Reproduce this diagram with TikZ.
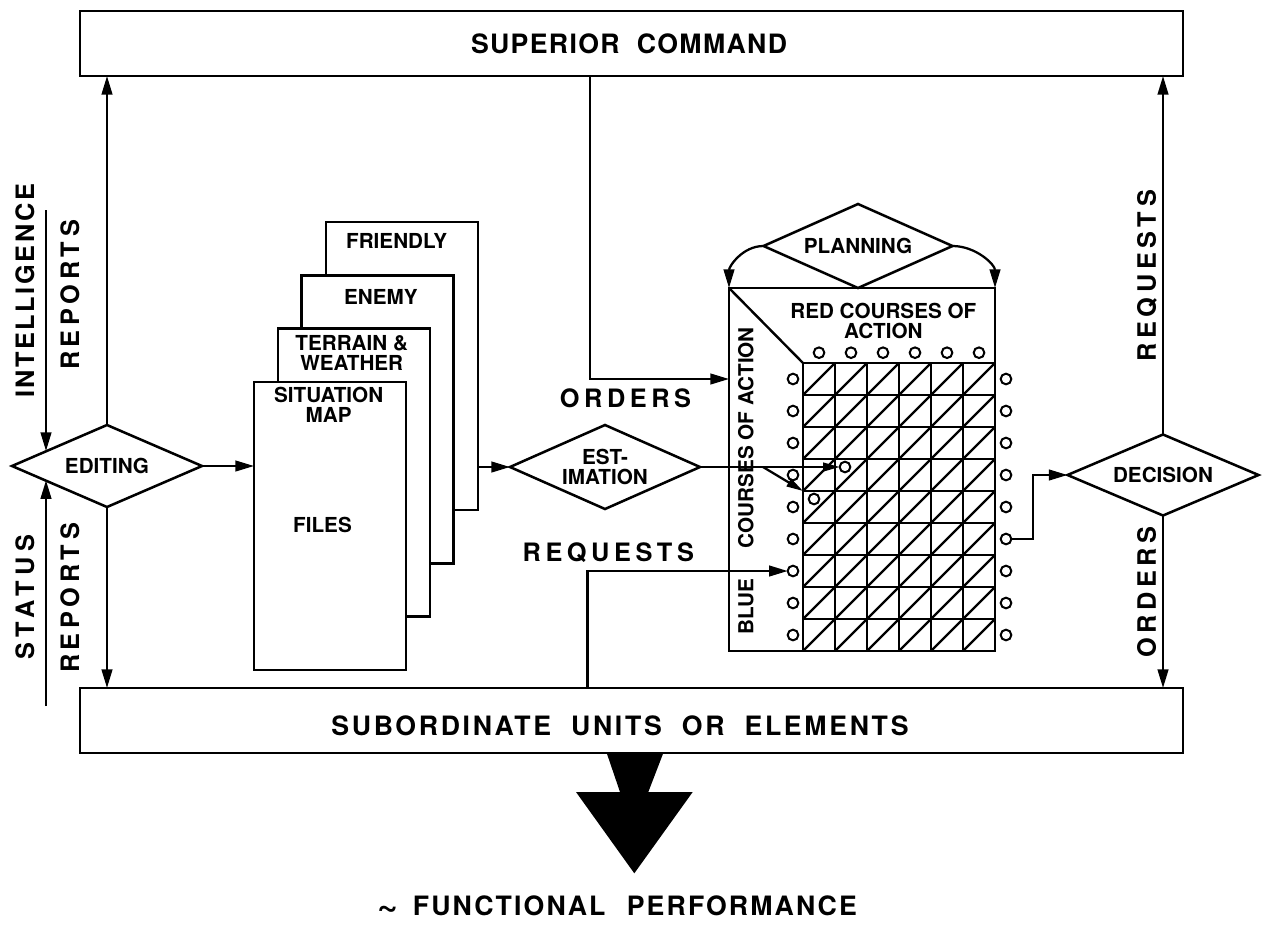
\documentclass[tikz,border=0pt]{standalone}
\usepackage{fontspec}
\setmainfont{TeX Gyre Heros}
\usetikzlibrary{arrows.meta,shapes.geometric}
\tikzset{
  every node/.style={inner sep=0pt, outer sep=0pt},
  ln/.style={line width=1.8pt},
  arr/.style={line width=1.7pt, -{Triangle[length=14pt,width=8pt]}},
  sarr/.style={line width=1.7pt, -{Triangle[length=12.5pt,width=6.5pt]}},
  bar/.style={draw, line width=1.9pt, minimum width=827.25pt, minimum height=48.75pt},
  file/.style={draw, fill=white, line width=1.9pt, minimum width=114pt, minimum height=216pt},
  dia/.style={draw, diamond, line width=1.9pt, aspect=2.3, fill=white,
              font=\fontsize{15.5pt}{15pt}\selectfont\bfseries, align=center},
  big/.style={font=\fontsize{20pt}{20pt}\selectfont\bfseries\addfontfeatures{LetterSpace=#1},
              text height=14.4pt, text depth=0pt},
  big/.default=5,
  lab/.style={font=\fontsize{19pt}{19pt}\selectfont\bfseries\addfontfeatures{LetterSpace=#1},
              text height=13.7pt, text depth=0pt},
  lab/.default=18,
  sm/.style={font=\fontsize{15.5pt}{15pt}\selectfont\bfseries, align=center},
  smone/.style={font=\fontsize{15.5pt}{15pt}\selectfont\bfseries, text height=11.1pt, text depth=0pt},
  dot/.style={draw, circle, line width=1.5pt, minimum size=8pt, fill=white},
}
\begin{document}
\begin{tikzpicture}[x=0.75pt,y=-0.75pt]
\useasboundingbox (0,0) rectangle (1262,925);

% command bars
\node[bar] (sup) at (631.5,43.5) {};
\node[big] (suptxt) at (629,44) {SUPERIOR\hspace{0.65em}COMMAND};
\node[bar] (sub) at (631.5,720.5) {};
\node[big=10] (subtxt) at (620,726) {SUBORDINATE\hspace{0.75em}UNITS\hspace{0.75em}OR\hspace{0.75em}ELEMENTS};

% left labels
\node[lab=10, rotate=90] (intel) at (25,291) {INTELLIGENCE};
\node[lab, rotate=90] (rep1) at (70,295) {REPORTS};
\node[lab=22, rotate=90] (status) at (25,597) {STATUS};
\node[lab, rotate=90] (rep2) at (70,598) {REPORTS};

% editing
\node[dia, minimum width=142.5pt, minimum height=61.5pt] (edit) at (107,466) {EDITING};
\coordinate (ia) at (46,210);
\coordinate (sa) at (46,706);
\draw[arr] (ia) -- (ia |- edit.166.5);
\draw[arr] (sa) -- (sa |- edit.193.5);
\draw[arr] (edit.north) -- (edit.north |- sup.south);
\draw[arr] (edit.south) -- (edit.south |- sub.north);

% files stack
\node[file] (friendly) at (402,366) {};
\node[file] (enemy) at (377.5,419.5) {};
\node[file] (terrain) at (354,472.5) {};
\node[file] (sit) at (330,526) {};
\node[smone] (tfr) at (396.7,241) {FRIENDLY};
\node[smone] (ten) at (380.8,297.3) {ENEMY};
\node[sm] (tte) at (351.7,352.7) {TERRAIN \&\\WEATHER};
\node[sm] (tsi) at (328.7,405.3) {SITUATION\\MAP};
\node[smone] (tfi) at (322.5,525) {FILES};
\draw[arr] (edit.east) -- (edit.east -| sit.west);

% estimation
\node[dia, minimum width=142.5pt, minimum height=63pt] (est) at (605,467) {EST-\\IMATION};
\draw[arr] (friendly.east |- est.west) -- (est.west);

% courses of action matrix
\node[draw, line width=1.9pt, minimum width=199.5pt, minimum height=272.25pt] (coa) at (862,469.5) {};
\foreach \i in {1,...,5} \draw[ln] ({803+32*\i},363) -- ++(0,288);
\foreach \j in {0,...,8} \draw[ln] (803,{363+32*\j}) -- ++(192,0);
\draw[ln] (803,363) -- (803,651);
\foreach \i in {0,...,5} \foreach \j in {0,...,8} \draw[ln] ({803+32*\i},{395+32*\j}) -- ++(32,-32);
\coordinate (gtl) at (803,363);
\draw[ln] (coa.north west) -- (gtl);
\node[sm] (red) at (883.3,320.7) {RED COURSES OF\\ACTION};
\node[smone, rotate=90] (blue) at (746,481) {BLUE\hspace{1.5em}COURSES OF ACTION};
\foreach \k in {0,...,5} \node[dot] (r\k) at ({819+32*\k},352.7) {};
\foreach \k in {0,...,8} {
  \node[dot] (bl\k) at (793,{379+32*\k}) {};
  \node[dot] (br\k) at (1006,{379+32*\k}) {};
}
\node[dot] (c1) at (845,467) {};
\node[dot] (c2) at (814,499) {};

% planning
\node[dia, minimum width=141.75pt, minimum height=63pt] (plan) at (858,246) {PLANNING};
\draw[arr] (plan.west) to[out=180,in=90] (coa.north west);
\draw[arr] (plan.east) to[out=0,in=90] (coa.north east);

% estimation outputs
\coordinate (brp) at (763,467);
\coordinate (gc) at (803,491);
\draw[sarr] (est.east) -- (c1.west);
\draw[sarr] (brp) -- (gc);

% orders from superior command
\coordinate (ordx) at (590,379);
\draw[arr] (ordx |- sup.south) |- (ordx -| coa.west);
\node[lab] (orders) at (625.5,398.3) {ORDERS};

% requests from subordinates
\coordinate (reqx) at (587.5,571);
\draw[arr] (reqx |- sub.north) |- (bl6.west);
\node[lab] (req) at (608.3,552.7) {REQUESTS};

% decision
\node[dia, minimum width=143.25pt, minimum height=60.75pt] (dec) at (1163,475) {DECISION};
\coordinate (dx) at (1033,475);
\draw[arr] (br5.east) -| (dx) -- (dec.west);
\draw[arr] (dec.north) -- (dec.north |- sup.south);
\draw[arr] (dec.south) -- (dec.south |- sub.north);
\node[lab, rotate=90] (req2) at (1146.7,275.7) {REQUESTS};
\node[lab, rotate=90] (ord2) at (1146.7,592) {ORDERS};

% functional performance arrow
\fill (606.7,753) -- (663.3,753) -- (648.3,792) -- (692.7,792) -- (634.3,873.3) -- (576,792) -- (620,792) -- cycle;
\node[big=8] (func) at (617,906) {{\fontsize{27pt}{27pt}\selectfont\raisebox{-0.06em}{\textasciitilde}}\hspace{0.55em}FUNCTIONAL\hspace{0.8em}PERFORMANCE};
\end{tikzpicture}
\end{document}
